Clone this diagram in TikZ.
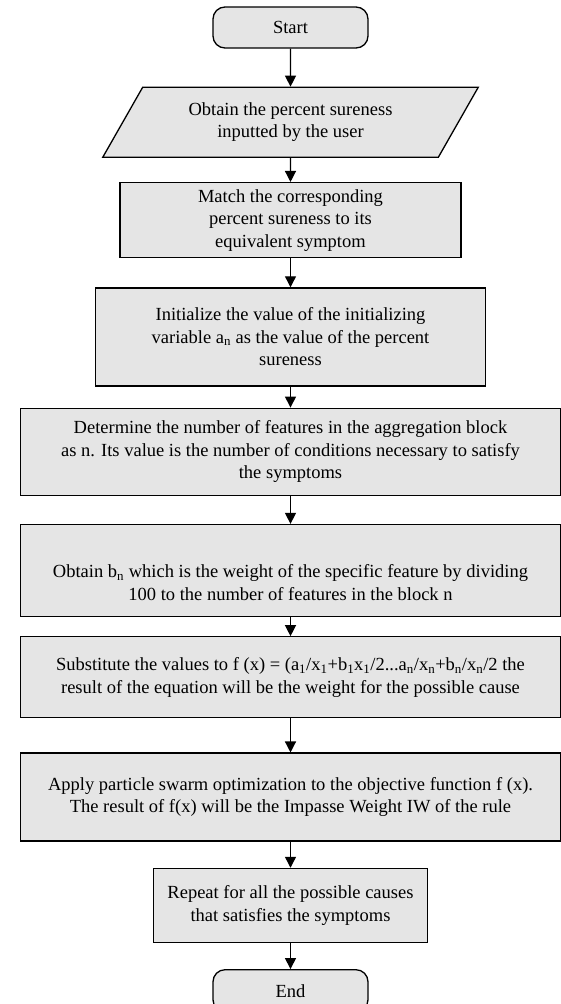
\documentclass[tikz,border=0pt]{standalone}
\usepackage{fontspec}
\setmainfont{Liberation Serif}
\usetikzlibrary{shapes.geometric, arrows.meta, positioning}

\begin{document}
\begin{tikzpicture}[
    x=1pt, y=1pt,
    font=\fontsize{18.5}{22.5}\selectfont,
    terminal/.style={rectangle, draw, fill=gray!20, rounded corners=12pt, minimum width=155pt, minimum height=41pt, line width=1.3pt},
    io/.style={trapezium, trapezium left angle=55, trapezium right angle=125, trapezium stretches=true, draw, fill=gray!20, minimum width=377pt, minimum height=70pt, line width=1.3pt, align=center, inner sep=0pt},
    process/.style={rectangle, draw, fill=gray!20, line width=1.3pt, align=center, inner sep=0pt},
    wide/.style={process, minimum width=540pt},
    arrow/.style={-{Triangle[length=11pt, width=11pt]}, line width=1.3pt}
]
    \useasboundingbox (0,0) rectangle (560,-1004);

    % Start
    \node[terminal] (start) at (290.5,-27.5) {Start};

    % Input
    \node[io, below=38pt of start] (input) {Obtain the percent sureness\\inputted by the user};

    % Steps
    \node[process, below=24pt of input, minimum width=341pt, minimum height=75pt] (match) {Match the corresponding\\percent sureness to its\\equivalent symptom};
    \node[process, below=29pt of match, minimum width=390pt, minimum height=98pt] (init) {Initialize the value of the initializing\\variable a\textsubscript{n} as the value of the percent\\sureness};
    \node[wide, below=21pt of init, minimum height=87pt] (count) {Determine the number of features in the aggregation block\\as n. Its value is the number of conditions necessary to satisfy\\the symptoms};
    \node[wide, below=28pt of count, minimum height=92pt] (weight) {\mbox{}\\[15pt]Obtain b\textsubscript{n} which is the weight of the specific feature by dividing\\100 to the number of features in the block n};
    \node[wide, below=19pt of weight, minimum height=81pt] (subst) {Substitute the values to f (x) = (a\textsubscript{1}/x\textsubscript{1}+b\textsubscript{1}x\textsubscript{1}/2...a\textsubscript{n}/x\textsubscript{n}+b\textsubscript{n}/x\textsubscript{n}/2 the\\result of the equation will be the weight for the possible cause};
    \node[wide, below=34pt of subst, minimum height=88pt] (pso) {Apply particle swarm optimization to the objective function f (x).\\The result of f(x) will be the Impasse Weight IW of the rule};
    \node[process, below=26pt of pso, minimum width=274pt, minimum height=74pt] (repeat) {Repeat for all the possible causes\\that satisfies the symptoms};

    % End
    \node[terminal, below=26pt of repeat, minimum height=42pt] (end) {End};

    % Flow
    \draw[arrow] (start) -- (input);
    \draw[arrow] (input) -- (match);
    \draw[arrow] (match) -- (init);
    \draw[arrow] (init.south -| match.south) -- (count.north -| match.south);
    \draw[arrow] (count) -- (weight);
    \draw[arrow] (weight) -- (subst);
    \draw[arrow] (subst) -- (pso);
    \draw[arrow] (pso) -- (repeat);
    \draw[arrow] (repeat) -- (end);

\end{tikzpicture}
\end{document}
